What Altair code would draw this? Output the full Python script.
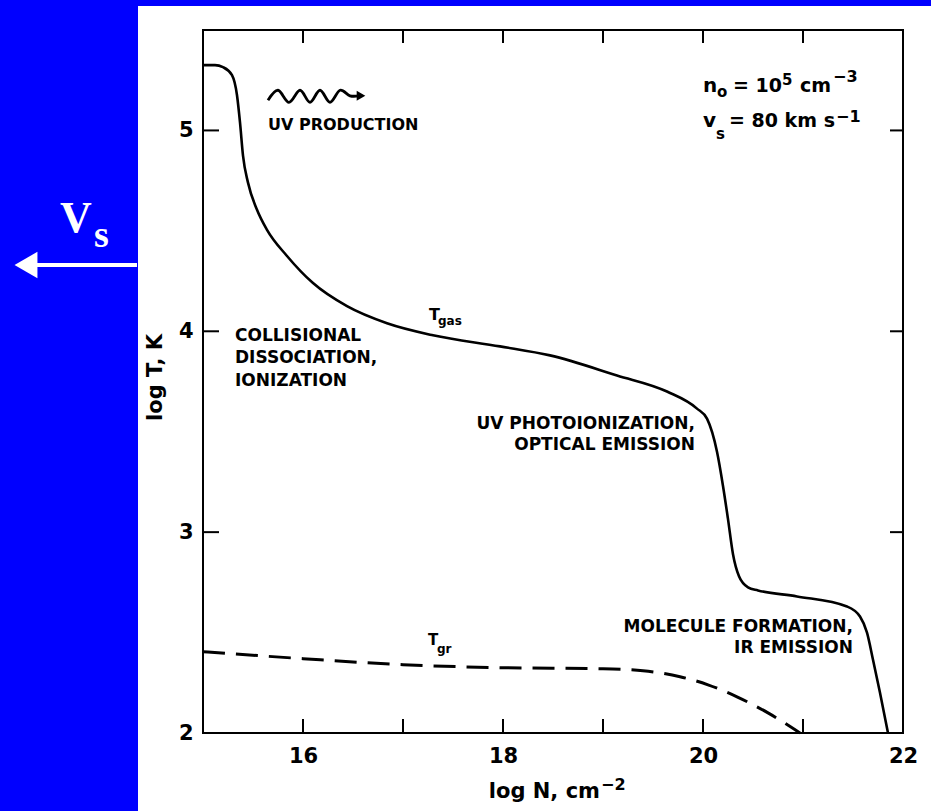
import altair as alt
import pandas as pd

# ---- data ----
tgas_N = [15.0, 15.12, 15.2, 15.29, 15.34, 15.37, 15.4, 15.45, 15.54, 15.64, 15.84, 16.1, 16.44, 16.84,
          17.3, 17.97, 18.47, 19.14, 19.64, 19.94, 20.04, 20.14, 20.2, 20.25, 20.3, 20.36, 20.45, 20.55,
          20.94, 21.44, 21.57, 21.64, 21.7, 21.77, 21.85]
tgas_T = [5.325, 5.325, 5.315, 5.275, 5.175, 5.04, 4.875, 4.74, 4.605, 4.505, 4.375, 4.24, 4.125, 4.04,
          3.98, 3.925, 3.88, 3.78, 3.70, 3.615, 3.565, 3.40, 3.23, 3.065, 2.89, 2.78, 2.725, 2.71,
          2.68, 2.63, 2.58, 2.50, 2.365, 2.2, 2.0]

tgr_N = [15.0, 16.0, 17.0, 18.0, 19.0, 19.4, 19.77, 20.05, 20.34, 20.65, 20.97]
tgr_T = [2.405, 2.37, 2.34, 2.325, 2.32, 2.31, 2.28, 2.24, 2.18, 2.1, 2.0]

wave_N = [15.65, 15.75, 15.86, 15.97, 16.07, 16.17, 16.27, 16.37, 16.47, 16.56]
wave_T = [5.15, 5.20, 5.14, 5.20, 5.14, 5.20, 5.14, 5.20, 5.1725, 5.1725]

x_tick_marks = [16, 17, 18, 19, 20, 21]
y_tick_marks = [3, 4, 5]
x_labels = [16, 18, 20, 22]
y_labels = [2, 3, 4, 5]

left_texts = ["UV PRODUCTION", "COLLISIONAL", "DISSOCIATION,", "IONIZATION", "T", "gas", "T", "gr",
              "n", "o", "= 10", "5", "cm", "−3", "v", "s", "= 80 km s", "−1", "−2"]
left_N = [15.65, 15.32, 15.32, 15.32, 17.26, 17.35, 17.25, 17.34,
          20.0, 20.14, 20.30, 20.79, 20.97, 21.30, 20.0, 20.13, 20.26, 21.33, 18.98]
left_T = [5.0, 3.95, 3.84, 3.73, 4.055, 4.03, 2.44, 2.40,
          5.19, 5.165, 5.19, 5.225, 5.19, 5.24, 5.015, 4.955, 5.015, 5.04, 1.715]
left_size = [16, 17, 17, 17, 16, 12, 15, 12, 20, 15, 19, 15, 19, 16, 20, 15, 19, 16, 16]

right_texts = ["UV PHOTOIONIZATION,", "OPTICAL EMISSION", "MOLECULE FORMATION,", "IR EMISSION", "log N, cm"]
right_N = [19.92, 19.92, 21.5, 21.5, 18.97]
right_T = [3.515, 3.41, 2.505, 2.40, 1.675]
right_size = [17, 17, 17, 17, 21]

FONT = "DejaVu Sans"
BLUE = "#0000ff"

xscale = alt.Scale(domain=[15, 22], nice=False, zero=False)
yscale = alt.Scale(domain=[2, 5.5], nice=False, zero=False)
xaxis = alt.Axis(values=x_labels, ticks=False, domain=False, grid=False, title=None,
                 labelFont=FONT, labelFontWeight="bold", labelFontSize=21, labelColor="black",
                 labelPadding=12, labelFlush=False, labelOverlap=False, labelBound=False, zindex=1)
yaxis = alt.Axis(values=y_labels, ticks=False, domain=False, grid=False, title=None,
                 labelFont=FONT, labelFontWeight="bold", labelFontSize=21, labelColor="black",
                 labelPadding=10, labelFlush=False, labelOverlap=False, labelBound=False, zindex=1)

X = alt.X("N:Q", scale=xscale, axis=xaxis)
Y = alt.Y("T:Q", scale=yscale, axis=yaxis)

gas_df = pd.DataFrame({"N": tgas_N, "T": tgas_T})
gr_df = pd.DataFrame({"N": tgr_N, "T": tgr_T})
wave_df = pd.DataFrame({"N": wave_N, "T": wave_T})

rows = []
for v in x_tick_marks:
    rows.append({"N": v, "N2": v, "T": 2.0, "T2": 2.07})
    rows.append({"N": v, "N2": v, "T": 5.5, "T2": 5.435})
for v in y_tick_marks:
    rows.append({"N": 15.0, "N2": 15.16, "T": v, "T2": v})
    rows.append({"N": 22.0, "N2": 21.87, "T": v, "T2": v})
tick_df = pd.DataFrame(rows)

ltext_df = pd.DataFrame({"label": left_texts, "N": left_N, "T": left_T, "size": left_size})
rtext_df = pd.DataFrame({"label": right_texts, "N": right_N, "T": right_T, "size": right_size})
ytitle_df = pd.DataFrame({"label": ["log T, K"], "N": [14.53], "T": [3.77]})
arrowhead_df = pd.DataFrame({"N": [16.58], "T": [5.1725]})
one = pd.DataFrame({"k": [0]})

# decorations (blue slide background, V_s arrow)
blue_left = alt.Chart(one).mark_rect(color=BLUE).encode(
    x=alt.value(-203), x2=alt.value(-65), y=alt.value(-30), y2=alt.value(781))
blue_top = alt.Chart(one).mark_rect(color=BLUE).encode(
    x=alt.value(-203), x2=alt.value(728), y=alt.value(-30), y2=alt.value(-24))
arrow_line = alt.Chart(one).mark_rule(color="white", strokeWidth=4).encode(
    x=alt.value(-66), x2=alt.value(-172), y=alt.value(235))
arrow_head = alt.Chart(one).mark_point(shape="triangle-left", filled=True, color="white",
                                       opacity=1, size=700).encode(
    x=alt.value(-177), y=alt.value(235))
v_text = alt.Chart(one).mark_text(text="V", font="Liberation Serif", fontWeight="bold", fontSize=44,
                                  color="white", align="left", baseline="alphabetic").encode(
    x=alt.value(-143), y=alt.value(202))
s_text = alt.Chart(one).mark_text(text="s", font="Liberation Serif", fontWeight="bold", fontSize=38,
                                  color="white", align="left", baseline="alphabetic").encode(
    x=alt.value(-109), y=alt.value(217))

gas = alt.Chart(gas_df).mark_line(color="black", strokeWidth=2.6, interpolate="monotone").encode(x=X, y=Y)
gr = alt.Chart(gr_df).mark_line(color="black", strokeWidth=3, strokeDash=[22, 11],
                                interpolate="monotone").encode(x=X, y=Y)
wave = alt.Chart(wave_df).mark_line(color="black", strokeWidth=2.8, interpolate="cardinal").encode(x=X, y=Y)
ahead = alt.Chart(arrowhead_df).mark_point(shape="triangle-right", filled=True, color="black",
                                           opacity=1, size=100).encode(x=X, y=Y)
ticks = alt.Chart(tick_df).mark_rule(color="black", strokeWidth=2).encode(
    x=X, x2="N2:Q", y=Y, y2="T2:Q")

ltext = alt.Chart(ltext_df).mark_text(font=FONT, fontWeight="bold", color="black", align="left",
                                      baseline="alphabetic").encode(
    x=X, y=Y, text="label:N", size=alt.Size("size:Q", scale=None, legend=None))
rtext = alt.Chart(rtext_df).mark_text(font=FONT, fontWeight="bold", color="black", align="right",
                                      baseline="alphabetic").encode(
    x=X, y=Y, text="label:N", size=alt.Size("size:Q", scale=None, legend=None))
ytitle = alt.Chart(ytitle_df).mark_text(font=FONT, fontWeight="bold", color="black", fontSize=21,
                                        angle=270, align="center", baseline="middle").encode(
    x=X, y=Y, text="label:N")

chart = alt.layer(
    blue_left, blue_top, arrow_line, arrow_head, v_text, s_text,
    ticks, gr, gas, wave, ahead, ltext, rtext, ytitle
).properties(
    width=700, height=703,
    autosize=alt.AutoSizeParams(type="none"),
    padding={"left": 203, "top": 30, "right": 28, "bottom": 78},
    background="white",
).configure_view(
    stroke="black", strokeWidth=2, fill="white"
)

chart.save("out.html", embed_options={"renderer": "svg", "actions": False})
